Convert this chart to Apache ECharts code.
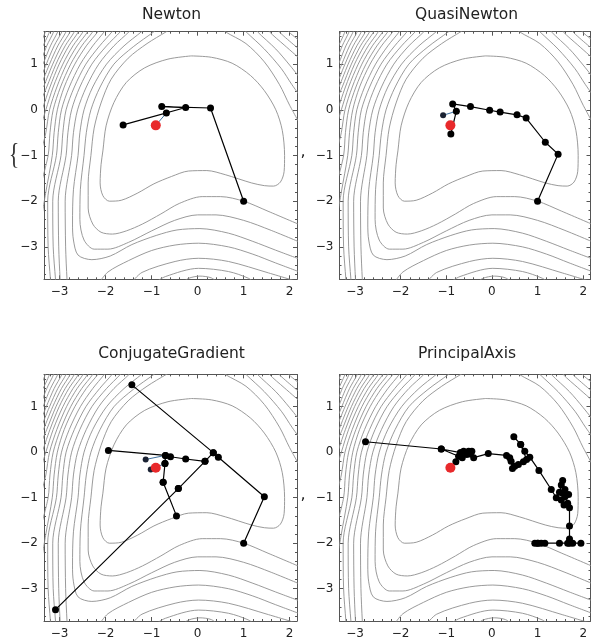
<!DOCTYPE html>
<html><head><meta charset="utf-8">
<script src="https://cdn.jsdelivr.net/npm/echarts@6/dist/echarts.min.js"></script>
<style>html,body{margin:0;padding:0;background:#fff}#c{width:591px;height:640px}</style>
</head><body><div id="c"></div>
<script>
// ---------- data ----------
const xRange = [-3.34, 2.16];
const yRange = [-3.71, 1.71];
const xTickLabels = [-3, -2, -1, 0, 1, 2];
const yTickLabels = [-3, -2, -1, 0, 1];
const methodNames = ['Newton', 'QuasiNewton', 'ConjugateGradient', 'PrincipalAxis'];

// contour lines of the objective (each level: list of pieces)
const contour1 = [
  [[-0.14,1.18],[0.3,1.15],[0.75,1.02],[1.15,0.75],[1.45,0.42],[1.7,0.0],[1.84,-0.45],[1.89,-1.0],[1.88,-1.35],[1.8,-1.58],[1.65,-1.67],[1.45,-1.66],[1.17,-1.6],[0.6,-1.42],[0.2,-1.33],[-0.2,-1.34],[-0.57,-1.46],[-0.95,-1.62],[-1.3,-1.82],[-1.66,-1.98],[-1.92,-2.0],[-2.06,-1.88],[-2.12,-1.6],[-2.1,-1.2],[-2.06,-0.9],[-1.99,-0.35],[-1.82,0.16],[-1.55,0.6],[-1.15,0.92],[-0.645,1.11],[-0.14,1.18]]
];
const contour2 = [
  [[-0.45,1.85],[-0.68,1.71],[-1.1,1.45],[-1.51,1.13],[-1.88,0.67],[-2.1,0.15],[-2.25,-0.4],[-2.32,-1.0],[-2.38,-1.6],[-2.38,-2.15],[-2.28,-2.5],[-2.1,-2.68],[-1.85,-2.72],[-1.55,-2.65],[-1.2,-2.5],[-0.8,-2.28],[-0.4,-2.05],[0.1,-1.9],[0.5,-1.9],[1.0,-2.0],[1.53,-2.22],[2.3,-2.55]],
  [[0.45,1.85],[0.6,1.71],[1.05,1.45],[1.45,1.05],[1.78,0.55],[2.0,0.1],[2.3,-0.45]]
];
const contour3 = [
  [[-0.78,1.85],[-0.95,1.71],[-1.4,1.38],[-1.82,1.0],[-2.12,0.5],[-2.32,0.0],[-2.42,-0.5],[-2.47,-1.0],[-2.55,-1.75],[-2.56,-2.4],[-2.47,-2.85],[-2.25,-3.05],[-1.95,-3.05],[-1.5,-2.9],[-1.0,-2.65],[-0.5,-2.42],[0.0,-2.3],[0.4,-2.3],[1.0,-2.42],[1.6,-2.64],[2.3,-2.93]],
  [[0.92,1.85],[1.05,1.71],[1.45,1.33],[1.82,0.9],[2.05,0.55],[2.3,0.2]]
];
const contour4 = [
  [[-1.08,1.85],[-1.22,1.71],[-1.6,1.4],[-1.98,1.0],[-2.28,0.5],[-2.47,0.0],[-2.56,-0.5],[-2.6,-1.0],[-2.7,-1.75],[-2.72,-2.5],[-2.7,-2.85],[-2.6,-3.18],[-2.3,-3.28],[-1.9,-3.2],[-1.43,-2.95],[-0.9,-2.75],[-0.45,-2.63],[0.05,-2.6],[0.67,-2.7],[1.2,-2.88],[1.69,-3.07],[2.3,-3.3]],
  [[1.2,1.85],[1.3,1.71],[1.7,1.33],[2.0,0.98],[2.3,0.6]]
];
const contour5 = [
  [[-1.38,1.85],[-1.49,1.71],[-1.82,1.4],[-2.15,1.0],[-2.42,0.5],[-2.61,0.0],[-2.7,-0.5],[-2.74,-1.0],[-2.88,-2.0],[-2.87,-3.0],[-2.84,-3.71],[-2.83,-3.8]],
  [[-2.15,-3.8],[-1.95,-3.55],[-1.5,-3.3],[-1.0,-3.08],[-0.49,-2.96],[0.02,-2.92],[0.67,-3.0],[1.2,-3.16],[1.69,-3.35],[2.3,-3.58]],
  [[1.48,1.85],[1.56,1.71],[1.88,1.42],[2.3,1.05]]
];
const contour6 = [
  [[-1.58,1.85],[-1.68,1.71],[-1.98,1.4],[-2.3,1.0],[-2.56,0.5],[-2.74,0.0],[-2.82,-0.5],[-2.86,-1.0],[-3.03,-2.0],[-3.02,-3.0],[-2.99,-3.71],[-2.98,-3.8]],
  [[-1.45,-3.8],[-1.21,-3.56],[-0.49,-3.32],[0.02,-3.25],[0.67,-3.32],[1.54,-3.57],[2.3,-3.8]],
  [[1.7,1.85],[1.77,1.71],[2.3,1.25]]
];
const contour7 = [
  [[-1.77,1.85],[-1.86,1.71],[-2.13,1.4],[-2.43,1.0],[-2.68,0.5],[-2.86,0.0],[-2.93,-0.5],[-2.97,-1.0],[-3.15,-2.0],[-3.14,-3.0],[-3.09,-3.71],[-3.08,-3.8]],
  [[-0.95,-3.8],[-0.7,-3.65],[0.02,-3.47],[0.67,-3.54],[1.11,-3.69],[1.25,-3.8]],
  [[1.92,1.85],[1.98,1.71],[2.3,1.45]]
];
const contour8 = [
  [[-1.95,1.85],[-2.03,1.71],[-2.28,1.4],[-2.55,1.0],[-2.79,0.5],[-2.96,0.0],[-3.03,-0.5],[-3.07,-1.0],[-3.26,-2.0],[-3.25,-3.0],[-3.2,-3.71],[-3.19,-3.8]],
  [[-0.35,-3.8],[-0.2,-3.69],[0.05,-3.64],[0.3,-3.68],[0.45,-3.8]]
];
const contour9 = [[[-2.1,1.85],[-2.17,1.71],[-2.42,1.4],[-2.67,1.0],[-2.9,0.5],[-3.05,0.0],[-3.12,-0.5],[-3.16,-1.0],[-3.3,-1.8],[-3.4,-2.4]]];
const contour10 = [[[-2.22,1.85],[-2.28,1.71],[-2.52,1.4],[-2.76,1.0],[-2.98,0.5],[-3.14,0.0],[-3.21,-0.5],[-3.25,-1.0],[-3.4,-1.6]]];
const contour11 = [[[-2.34,1.85],[-2.39,1.71],[-2.62,1.4],[-2.85,1.0],[-3.06,0.5],[-3.22,0.0],[-3.3,-0.5],[-3.4,-0.9]]];
const contour12 = [[[-2.44,1.85],[-2.49,1.71],[-2.71,1.4],[-2.93,1.0],[-3.14,0.5],[-3.3,0.0],[-3.42,-0.4]]];
const contour13 = [[[-2.54,1.85],[-2.59,1.71],[-2.8,1.4],[-3.01,1.0],[-3.21,0.5],[-3.38,0.0]]];
const contour14 = [[[-2.64,1.85],[-2.68,1.71],[-2.88,1.4],[-3.08,1.0],[-3.28,0.5],[-3.45,0.1]]];
const contour15 = [[[-2.73,1.85],[-2.77,1.71],[-2.96,1.4],[-3.15,1.0],[-3.35,0.5]]];
const contour16 = [[[-2.82,1.85],[-2.86,1.71],[-3.04,1.4],[-3.22,1.0],[-3.42,0.5]]];
const contour17 = [[[-2.91,1.85],[-2.95,1.71],[-3.12,1.4],[-3.29,1.0],[-3.45,0.6]]];
const contour18 = [[[-3.0,1.85],[-3.04,1.71],[-3.2,1.4],[-3.36,1.0]]];
const contour19 = [[[-3.1,1.85],[-3.13,1.71],[-3.28,1.4],[-3.43,1.0]]];
const contour20 = [[[-3.19,1.85],[-3.22,1.71],[-3.36,1.4]]];
const contour21 = [[[-3.28,1.85],[-3.31,1.71],[-3.44,1.4]]];

// search paths (steps of each method)
const newtonPath = [[1,-2],[0.28,0.04],[-0.78,0.07],[-0.26,0.05],[-1.62,-0.33],[-0.68,-0.07]];
const newtonFinal = [[-0.68,-0.07],[-0.91,-0.34]];
const quasiNewtonPath = [[1,-2],[1.45,-0.97],[1.17,-0.71],[0.75,-0.18],[0.55,-0.11],[0.18,-0.05],[-0.05,-0.01],[-0.47,0.07],[-0.86,0.13],[-0.78,-0.03],[-0.9,-0.53]];
const quasiNewtonFinal = [[-1.07,-0.12],[-0.78,-0.03]];
const conjugateGradientPath = [[1,-2],[1.45,-0.98],[0.45,-0.11],[0.34,-0.01],[-1.43,1.48],[0.34,-0.01],[0.16,-0.2],[-0.42,-0.8],[-3.09,-3.46],[-0.42,-0.8],[0.16,-0.2],[-0.26,-0.15],[-0.59,-0.1],[-0.7,-0.07],[-1.94,0.04],[-0.7,-0.07],[-0.71,-0.25],[-0.75,-0.66],[-0.46,-1.4],[-0.75,-0.66],[-0.71,-0.25]];
const conjugateGradientFinal = [[-1.13,-0.16],[-0.7,-0.07],[-0.71,-0.25],[-1.02,-0.38]];
const principalAxisPath = [[1,-2],[0.94,-2],[1.01,-2],[1.08,-2],[1.16,-2],[1.48,-2],[1.66,-2],[1.77,-2],[1.95,-2],[1.7,-2],[1.7,-1.91],[1.7,-1.62],[1.7,-1.22],[1.66,-1.12],[1.58,-1.16],[1.52,-1.05],[1.6,-0.98],[1.68,-0.93],[1.55,-0.9],[1.6,-0.82],[1.52,-0.72],[1.55,-0.62],[1.48,-0.88],[1.41,-1.0],[1.3,-0.82],[1.03,-0.4],[0.83,-0.11],[0.72,0.02],[0.63,0.17],[0.48,0.34],[0.63,0.17],[0.76,-0.16],[0.69,-0.21],[0.58,-0.27],[0.5,-0.31],[0.45,-0.36],[0.42,-0.2],[0.39,-0.12],[0.32,-0.07],[-0.08,-0.03],[-0.4,-0.12],[-0.47,-0.04],[-0.55,-0.05],[-0.44,0.02],[-0.51,0.02],[-0.62,0.02],[-0.69,-0.01],[-0.65,-0.12],[-0.73,-0.09],[-1.11,0.07],[-2.77,0.23],[-1.11,0.07],[-0.69,-0.01],[-0.79,-0.21]];
const principalAxisFinal = [[-0.79,-0.21],[-0.91,-0.34]];
const minimumPoint = [-0.91, -0.34];

// ---------- chart ----------
const contourLevels = [contour1,contour2,contour3,contour4,contour5,contour6,contour7,contour8,contour9,contour10,contour11,contour12,contour13,contour14,contour15,contour16,contour17,contour18,contour19,contour20,contour21];
const paths = [newtonPath, quasiNewtonPath, conjugateGradientPath, principalAxisPath];
const finals = [newtonFinal, quasiNewtonFinal, conjugateGradientFinal, principalAxisFinal];
const layout = [
  {left: 44, top: 31.7, width: 253, height: 247.6},
  {left: 339.5, top: 31.7, width: 251, height: 247.6},
  {left: 44, top: 374.4, width: 253, height: 247.6},
  {left: 339.5, top: 374.4, width: 251, height: 247.6}
];
const frameColor = '#555';
const fmt = v => String(v).replace('-', '\u2212');
function minorValues(range) {
  const out = [];
  for (let i = Math.ceil(range[0] * 5); i <= Math.floor(range[1] * 5); i++) {
    if (i % 5 !== 0) out.push(i / 5);
  }
  return out;
}
const xMinor = minorValues(xRange);
const yMinor = minorValues(yRange);

const grid = [], xAxis = [], yAxis = [], series = [];
layout.forEach((L, gi) => {
  grid.push({left: L.left, top: L.top, width: L.width, height: L.height, containLabel: false});
  const base = {type: 'value', gridIndex: gi, splitLine: {show: false}, min: xRange[0], max: xRange[1]};
  const line = {show: true, onZero: false, lineStyle: {color: frameColor, width: 1}};
  const noLine = {show: false, onZero: false};
  const lbl = {show: true, customValues: xTickLabels, formatter: fmt, margin: 7, color: '#222', fontSize: 12, fontFamily: 'DejaVu Sans'};
  xAxis.push({...base, position: 'bottom', axisLine: line, axisTick: {show: true, inside: true, length: 4, customValues: xTickLabels, lineStyle: {color: frameColor}}, axisLabel: lbl});
  xAxis.push({...base, position: 'bottom', axisLine: noLine, axisTick: {show: true, inside: true, length: 2, customValues: xMinor, lineStyle: {color: frameColor}}, axisLabel: {show: false}});
  xAxis.push({...base, position: 'top', axisLine: line, axisTick: {show: true, inside: true, length: 4, customValues: xTickLabels, lineStyle: {color: frameColor}}, axisLabel: {show: false}});
  xAxis.push({...base, position: 'top', axisLine: noLine, axisTick: {show: true, inside: true, length: 2, customValues: xMinor, lineStyle: {color: frameColor}}, axisLabel: {show: false}});
  const ybase = {type: 'value', gridIndex: gi, splitLine: {show: false}, min: yRange[0], max: yRange[1]};
  const ylbl = {show: true, customValues: yTickLabels, formatter: fmt, margin: 6, color: '#222', fontSize: 12, fontFamily: 'DejaVu Sans'};
  yAxis.push({...ybase, position: 'left', axisLine: line, axisTick: {show: true, inside: true, length: 4, customValues: yTickLabels, lineStyle: {color: frameColor}}, axisLabel: ylbl});
  yAxis.push({...ybase, position: 'left', axisLine: noLine, axisTick: {show: true, inside: true, length: 2, customValues: yMinor, lineStyle: {color: frameColor}}, axisLabel: {show: false}});
  yAxis.push({...ybase, position: 'right', axisLine: line, axisTick: {show: true, inside: true, length: 4, customValues: yTickLabels, lineStyle: {color: frameColor}}, axisLabel: {show: false}});
  yAxis.push({...ybase, position: 'right', axisLine: noLine, axisTick: {show: true, inside: true, length: 2, customValues: yMinor, lineStyle: {color: frameColor}}, axisLabel: {show: false}});

  const ax = {xAxisIndex: 4 * gi, yAxisIndex: 4 * gi};
  contourLevels.forEach(level => level.forEach(piece => {
    series.push({type: 'line', ...ax, data: piece, symbol: 'none', smooth: 0.3, silent: true, animation: false, z: 1,
      lineStyle: {color: '#8f8f8f', width: 0.9}});
  }));
  series.push({type: 'line', ...ax, data: finals[gi], symbol: 'circle', symbolSize: 6, showAllSymbol: true, silent: true, animation: false, z: 2,
    itemStyle: {color: '#1a2233', opacity: 1}, lineStyle: {color: '#3d6f9e', width: 1}});
  series.push({type: 'line', ...ax, data: paths[gi], symbol: 'circle', symbolSize: 7, showAllSymbol: true, silent: true, animation: false, z: 3,
    itemStyle: {color: '#000', borderWidth: 0, opacity: 1}, lineStyle: {color: '#000', width: 1.2}});
  series.push({type: 'scatter', ...ax, data: [minimumPoint], symbolSize: 10, silent: true, animation: false, z: 4,
    itemStyle: {color: '#e8292b', opacity: 1, borderWidth: 0}});
});

const titleFont = '15.5px "DejaVu Sans"';
const graphic = [
  {type: 'text', x: 171.5, y: 15, style: {text: methodNames[0], font: titleFont, fill: '#222', align: 'center', verticalAlign: 'middle'}},
  {type: 'text', x: 466.5, y: 15, style: {text: methodNames[1], font: titleFont, fill: '#222', align: 'center', verticalAlign: 'middle'}},
  {type: 'text', x: 171.5, y: 353.5, style: {text: methodNames[2], font: titleFont, fill: '#222', align: 'center', verticalAlign: 'middle'}},
  {type: 'text', x: 467, y: 353.5, style: {text: methodNames[3], font: titleFont, fill: '#222', align: 'center', verticalAlign: 'middle'}},
  {type: 'text', x: 14, y: 155, scaleY: 1.35, style: {text: '{', font: '22px "Liberation Serif"', fill: '#333', align: 'center', verticalAlign: 'middle'}},
  {type: 'text', x: 303, y: 152, style: {text: ',', font: '16px "DejaVu Sans"', fill: '#222', align: 'center', verticalAlign: 'middle'}},
  {type: 'text', x: 303, y: 495, style: {text: ',', font: '16px "DejaVu Sans"', fill: '#222', align: 'center', verticalAlign: 'middle'}}
];

const chart = echarts.init(document.getElementById('c'), null, {renderer: 'canvas'});
chart.setOption({animation: false, backgroundColor: '#fff', grid, xAxis, yAxis, series, graphic});
</script></body></html>
